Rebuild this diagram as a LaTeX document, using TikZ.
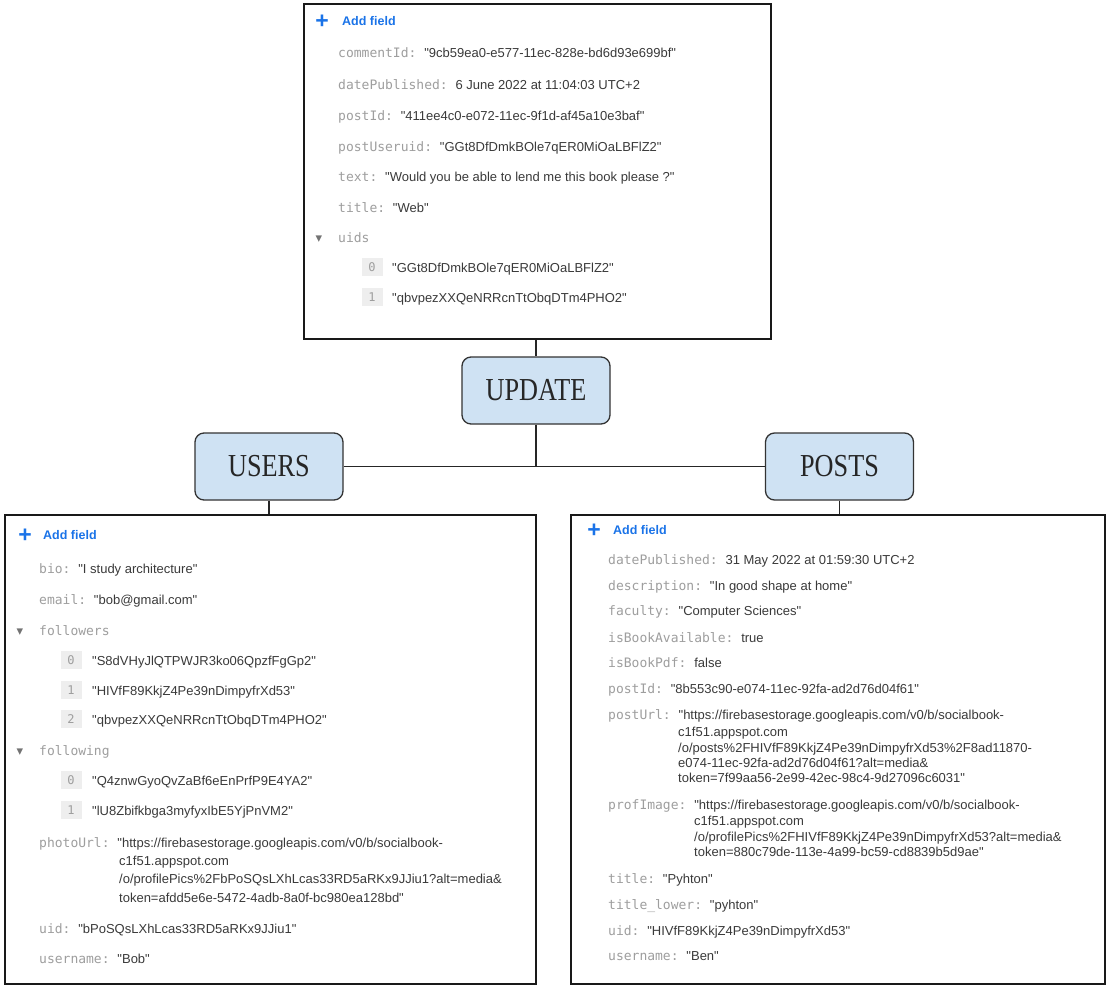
\documentclass[tikz,border=0pt]{standalone}
\usepackage{fontspec}
\usepackage{xcolor}
\usepackage{tikz}
\newfontfamily\keyfont{DejaVu Sans Mono}
\newfontfamily\valfont{Liberation Sans}
\newfontfamily\symfont{DejaVu Sans}
\newfontfamily\boxfont[FakeStretch=0.82]{Liberation Serif}
\definecolor{keygray}{HTML}{9E9E9E}
\definecolor{valdark}{HTML}{3A3A3A}
\definecolor{addblue}{HTML}{1A73E8}
\definecolor{boxblue}{HTML}{CFE2F3}
\definecolor{idxgray}{HTML}{EEEEEE}
\tikzset{
  docbox/.style={draw=black!90, line width=2.8pt, fill=white, inner sep=0pt},
  tagbox/.style={rectangle, rounded corners=9pt, draw=black!80, line width=1.3pt, fill=boxblue, minimum width=148pt, minimum height=67pt, font=\boxfont\fontsize{32}{32}\selectfont, text=black!85},
  link/.style={line width=1.3pt, black!85},
  fieldrow/.style={anchor=west, inner sep=0pt, text height=10pt, text depth=0pt, font=\valfont\fontsize{13}{15}\selectfont, text=valdark},
  idx/.style={fill=idxgray, minimum width=21pt, minimum height=18pt, inner sep=0pt, font=\keyfont\fontsize{12}{12}\selectfont, text=keygray},
  caret/.style={inner sep=0pt, yshift=-2pt, font=\symfont\fontsize{13}{13}\selectfont, text=black!55},
  addplus/.style={inner sep=0pt, yshift=-2.5pt, font=\valfont\bfseries\fontsize{23}{23}\selectfont, text=addblue},
  addtxt/.style={fieldrow, font=\valfont\bfseries\fontsize{12.5}{14}\selectfont, text=addblue},
}
\newcommand{\keyf}{\color{keygray}\keyfont}
\newcommand{\kv}[2]{{\keyf #1:\ }#2}

\begin{document}
\begin{tikzpicture}[x=1pt, y=-1pt]
\useasboundingbox (0,0) rectangle (1108,988);

% documents
\node[docbox, minimum width=467pt, minimum height=335pt] (topdoc) at (537.5,171.5) {};
\node[docbox, minimum width=531pt, minimum height=469pt] (leftdoc) at (270.5,749.5) {};
\node[docbox, minimum width=534pt, minimum height=469pt] (rightdoc) at (838,749.5) {};

% collections
\node[tagbox] (update) at (536,390.5) {UPDATE};
\node[tagbox] (users) at (269,466.5) {USERS};
\node[tagbox] (posts) at (839.5,466.5) {POSTS};

\draw[link] (topdoc.south -| update) -- (update.north);
\draw[link] (update.south) -- (update.south |- users.east);
\draw[link] (users.east) -- (posts.west);
\draw[link] (users.south) -- (users.south |- leftdoc.north);
\draw[link] (posts.south) -- (posts.south |- rightdoc.north);

% update document
\node[addplus] (tplus) at (322,19) {+};
\node[addtxt] (tadd) at (342,20) {Add field};
\foreach \fy/\fk/\fv [count=\i] in {
  52/commentId/{"9cb59ea0-e577-11ec-828e-bd6d93e699bf"},
  84/datePublished/{6 June 2022 at 11:04:03 UTC+2},
  115/postId/{"411ee4c0-e072-11ec-9f1d-af45a10e3baf"},
  146/postUseruid/{"GGt8DfDmkBOle7qER0MiOaLBFlZ2"},
  176/text/{"Would you be able to lend me this book please ?"},
  207/title/{"Web"}}
  \node[fieldrow] (tf\i) at (338,\fy) {\kv{\fk}{\fv}};
\node[caret] (tcar) at (319,237) {▾};
\node[fieldrow] (tuids) at (338,237) {\keyf uids};
\foreach \fy/\fn/\fv in {
  267/0/{"GGt8DfDmkBOle7qER0MiOaLBFlZ2"},
  297/1/{"qbvpezXXQeNRRcnTtObqDTm4PHO2"}} {
  \node[idx] (ti\fn) at (372,\fy) {\fn};
  \node[fieldrow] (tv\fn) at (392,\fy) {\fv};
}

% user document
\node[addplus] (lplus) at (25,533) {+};
\node[addtxt] (ladd) at (43,534) {Add field};
\node[fieldrow] (lbio) at (39,568) {\kv{bio}{"I study architecture"}};
\node[fieldrow] (lmail) at (39,599) {\kv{email}{"bob@gmail.com"}};
\node[caret] (lcar1) at (20,630) {▾};
\node[fieldrow] (lfol) at (39,630) {\keyf followers};
\foreach \fy/\fn/\fv in {
  660/0/{"S8dVHyJlQTPWJR3ko06QpzfFgGp2"},
  690/1/{"HIVfF89KkjZ4Pe39nDimpyfrXd53"},
  719/2/{"qbvpezXXQeNRRcnTtObqDTm4PHO2"}} {
  \node[idx] (lfi\fn) at (71,\fy) {\fn};
  \node[fieldrow] (lfv\fn) at (92,\fy) {\fv};
}
\node[caret] (lcar2) at (20,750) {▾};
\node[fieldrow] (lfing) at (39,750) {\keyf following};
\foreach \fy/\fn/\fv in {
  780/0/{"Q4znwGyoQvZaBf6eEnPrfP9E4YA2"},
  810/1/{"lU8Zbifkbga3myfyxIbE5YjPnVM2"}} {
  \node[idx] (lgi\fn) at (71,\fy) {\fn};
  \node[fieldrow] (lgv\fn) at (92,\fy) {\fv};
}
\node[fieldrow] (lphoto) at (39,842) {\kv{photoUrl}{"https://firebasestorage.googleapis.com/v0/b/socialbook-}};
\node[fieldrow] (lphoto2) at (119,860) {c1f51.appspot.com};
\node[fieldrow] (lphoto3) at (119,878) {/o/profilePics\%2FbPoSQsLXhLcas33RD5aRKx9JJiu1?alt=media\&};
\node[fieldrow] (lphoto4) at (119,897) {token=afdd5e6e-5472-4adb-8a0f-bc980ea128bd"};
\node[fieldrow] (luid) at (39,928) {\kv{uid}{"bPoSQsLXhLcas33RD5aRKx9JJiu1"}};
\node[fieldrow] (luser) at (39,958) {\kv{username}{"Bob"}};

% post document
\node[addplus] (rplus) at (594,528) {+};
\node[addtxt] (radd) at (613,529) {Add field};
\foreach \fy/\fk/\fv [count=\i] in {
  559/datePublished/{31 May 2022 at 01:59:30 UTC+2},
  585/description/{"In good shape at home"},
  610/faculty/{"Computer Sciences"},
  637/isBookAvailable/{true},
  662/isBookPdf/{false},
  688/postId/{"8b553c90-e074-11ec-92fa-ad2d76d04f61"}}
  \node[fieldrow] (rf\i) at (608,\fy) {\kv{\fk}{\fv}};
\node[fieldrow] (rurl) at (608,714) {\kv{postUrl}{"https://firebasestorage.googleapis.com/v0/b/socialbook-}};
\node[fieldrow] (rurl2) at (678,731) {c1f51.appspot.com};
\node[fieldrow] (rurl3) at (678,747) {/o/posts\%2FHIVfF89KkjZ4Pe39nDimpyfrXd53\%2F8ad11870-};
\node[fieldrow] (rurl4) at (678,762) {e074-11ec-92fa-ad2d76d04f61?alt=media\&};
\node[fieldrow] (rurl5) at (678,777) {token=7f99aa56-2e99-42ec-98c4-9d27096c6031"};
\node[fieldrow] (rimg) at (608,804) {\kv{profImage}{"https://firebasestorage.googleapis.com/v0/b/socialbook-}};
\node[fieldrow] (rimg2) at (694,820) {c1f51.appspot.com};
\node[fieldrow] (rimg3) at (694,836) {/o/profilePics\%2FHIVfF89KkjZ4Pe39nDimpyfrXd53?alt=media\&};
\node[fieldrow] (rimg4) at (694,851) {token=880c79de-113e-4a99-bc59-cd8839b5d9ae"};
\node[fieldrow] (rtitle) at (608,878) {\kv{title}{"Pyhton"}};
\node[fieldrow] (rlower) at (608,904) {\kv{title\_lower}{"pyhton"}};
\node[fieldrow] (ruid) at (608,930) {\kv{uid}{"HIVfF89KkjZ4Pe39nDimpyfrXd53"}};
\node[fieldrow] (ruser) at (608,955) {\kv{username}{"Ben"}};
\end{tikzpicture}
\end{document}
